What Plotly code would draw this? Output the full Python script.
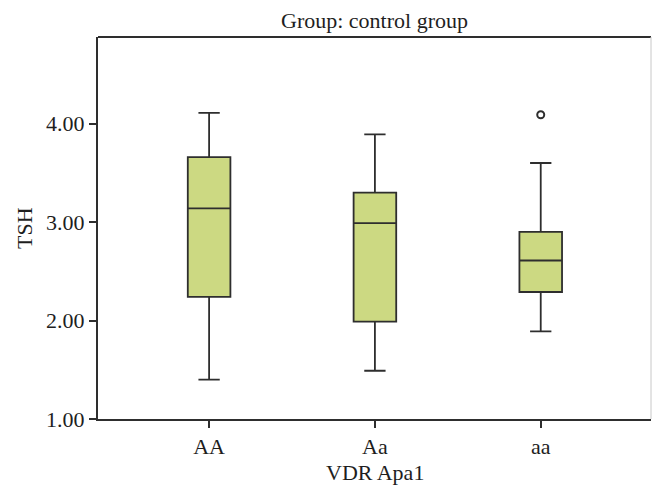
import plotly.graph_objects as go

categories = ["AA", "Aa", "aa"]
lower_whisker = [1.40, 1.49, 1.89]
q1 = [2.24, 1.99, 2.29]
median = [3.14, 2.99, 2.61]
q3 = [3.66, 3.30, 2.90]
upper_whisker = [4.11, 3.89, 3.60]
outlier_cat = ["aa"]
outlier_val = [4.09]
y_ticks = [1, 2, 3, 4]

FONT = "Liberation Serif"
DARK = "#2e2e2e"
FS = 22

fig = go.Figure()
fig.add_trace(go.Box(
    x=categories, q1=q1, median=median, q3=q3,
    lowerfence=lower_whisker, upperfence=upper_whisker,
    width=0.257, whiskerwidth=0.5,
    fillcolor="#ccd982", line=dict(color=DARK, width=1.8),
    boxpoints=False, showlegend=False, hoverinfo="skip",
))
fig.add_trace(go.Scatter(
    x=outlier_cat, y=outlier_val, mode="markers",
    marker=dict(symbol="circle-open", size=7, color=DARK, line=dict(width=2, color=DARK)),
    showlegend=False, hoverinfo="skip",
))

fig.update_layout(
    width=657, height=493,
    margin=dict(l=89.5, r=14, t=29, b=82, autoexpand=False),
    paper_bgcolor="white", plot_bgcolor="white",
    font=dict(family=FONT, size=FS, color="#1e1e1e"),
    xaxis=dict(
        type="category", range=[-0.67, 2.665],
        showline=True, linecolor=DARK, linewidth=2,
        ticks="outside", ticklen=7, tickwidth=1.5, tickcolor=DARK,
        showgrid=False, zeroline=False, tickfont=dict(size=FS),
        automargin=False,
    ),
    yaxis=dict(
        range=[1, 4.88], tickvals=y_ticks, tickformat=".2f",
        showline=True, linecolor=DARK, linewidth=2,
        ticks="outside", ticklen=7, tickwidth=1.5, tickcolor=DARK,
        showgrid=False, zeroline=False, tickfont=dict(size=FS),
        automargin=False,
    ),
    shapes=[
        dict(type="line", xref="paper", yref="paper", x0=0, x1=1, y0=1, y1=1,
             line=dict(color=DARK, width=2)),
        dict(type="line", xref="paper", yref="paper", x0=1, x1=1, y0=0, y1=1,
             line=dict(color="#c8c8c8", width=1)),
    ],
    annotations=[
        dict(text="Group: control group", xref="paper", yref="paper", x=0.5, y=1,
             xanchor="center", yanchor="middle", yshift=17, showarrow=False,
             font=dict(size=FS, family=FONT)),
        dict(text="TSH", xref="paper", yref="paper", x=0, y=0.5, textangle=-90,
             xanchor="center", yanchor="middle", xshift=-74, showarrow=False,
             font=dict(size=FS, family=FONT)),
        dict(text="VDR Apa1", xref="paper", yref="paper", x=0.5, y=0,
             xanchor="center", yanchor="middle", yshift=-53, showarrow=False,
             font=dict(size=FS, family=FONT)),
    ],
)

fig.write_html("out.html")
